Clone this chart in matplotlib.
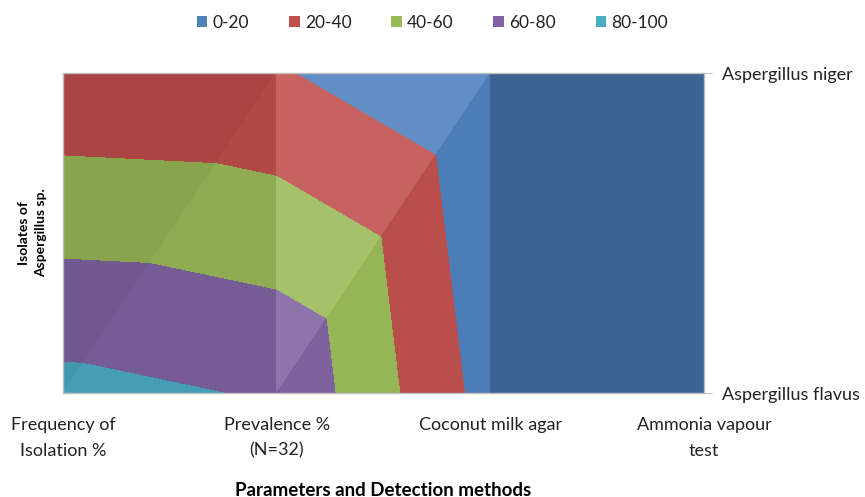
import matplotlib.pyplot as plt
import matplotlib.tri as mtri
from matplotlib.patches import Patch
from matplotlib.colors import to_rgb

plt.rcParams['font.family'] = ['Lato', 'DejaVu Sans']

methods = ["Frequency of\nIsolation %", "Prevalence %\n(N=32)", "Coconut milk agar", "Ammonia vapour\ntest"]
isolates = ["Aspergillus flavus", "Aspergillus niger"]
flavus = [86.0, 78.1, 12.0, 0.0]
niger = [24.0, 21.9, 0.0, 0.0]
band_labels = ["0-20", "20-40", "40-60", "60-80", "80-100"]
band_edges = [0, 20, 40, 60, 80, 100]
band_colors = ["#4F81BD", "#C0504D", "#9BBB59", "#8064A2", "#4BACC6"]

# excel lights each facet differently: (upper-left, lower-right) triangle per cell
shade = [(-0.12, -0.08), (0.10, -0.03), (-0.23, -0.23)]


def shaded(col, s):
    r = to_rgb(col)
    if s < 0:
        return tuple(c * (1 + s) for c in r)
    return tuple(c + (1 - c) * s for c in r)


n = len(methods)
xs = list(range(n)) * 2
ys = [0] * n + [1] * n
zs = flavus + niger

fig = plt.figure(figsize=(8.65, 4.97), dpi=100)
ax = fig.add_axes([63 / 865, 1 - 393.3 / 497, (704 - 63) / 865, 320 / 497])

for i in range(n - 1):
    tris = [[i, n + i, n + i + 1], [i, i + 1, n + i + 1]]
    for tri, s in zip(tris, shade[i]):
        t = mtri.Triangulation(xs, ys, triangles=[tri])
        ax.tricontourf(t, zs, levels=band_edges, colors=[shaded(c, s) for c in band_colors])

ax.set_xlim(0, n - 1)
ax.set_ylim(0, 1)
for sp in ax.spines.values():
    sp.set_color("#BFBFBF")
    sp.set_linewidth(1.0)

ax.set_xticks(range(n))
ax.set_xticklabels(methods, fontsize=13, color="#222222")
for lab in ax.get_xticklabels():
    lab.set_linespacing(1.75)
ax.tick_params(axis="x", length=0, pad=17)

ax.yaxis.tick_right()
ax.set_yticks([0, 1])
ax.set_yticklabels(isolates, fontsize=13, color="#222222")
ax.tick_params(axis="y", length=6, color="#BFBFBF", pad=7)

handles = [Patch(facecolor=c, edgecolor="none") for c in band_colors]
fig.legend(handles, band_labels, loc="center", bbox_to_anchor=(0.5, 1 - 23 / 497), ncol=5,
           frameon=False, fontsize=12.5, handlelength=0.6, handleheight=0.6,
           handletextpad=0.3, columnspacing=2.3, labelcolor="#222222")

fig.text(383 / 865, 1 - 490 / 497, "Parameters and Detection methods", ha="center", va="center",
         fontsize=13.5, fontweight="bold")
fig.text(33 / 865, 1 - 233 / 497, "Isolates of\nAspergillus sp.", ha="center", va="center",
         rotation=90, fontsize=10, fontweight="bold", multialignment="center", linespacing=1.5)

fig.savefig("out.png", dpi=100)
